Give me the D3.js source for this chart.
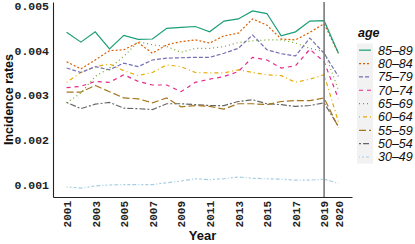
<!DOCTYPE html>
<html>
<head>
<meta charset="utf-8">
<script src="https://cdn.jsdelivr.net/npm/d3@7"></script>
<style>
  body { margin: 0; background: #fff; }
  svg { display: block; }
</style>
</head>
<body>
<div id="chart"></div>
<script>
// years on the x axis
const years = d3.range(2001, 2021);

// age groups, in legend order
const ages = ["85–89", "80–84", "75–79", "70–74", "65–69", "60–64", "55–59", "50–54", "30–49"];

const colors = ["#1b9e77", "#d95f02", "#7570b3", "#e7298a", "#66a61e", "#e6ab02", "#a6761d", "#666666", "#a6cee3"];
const dashes = ["", "2 2", "4 2", "4 4", "1 3", "1 3 4 3", "7 3", "2 2 6 2", "1 2 2 2 3 2 4 2"];

// incidence rates per age group, 2001..2020
const r85_89 = [0.00441, 0.00419, 0.00442, 0.00404, 0.00434, 0.00425, 0.00426, 0.00450, 0.00452, 0.00454,
                0.00442, 0.00466, 0.00471, 0.00489, 0.00483, 0.00433, 0.00442, 0.00466, 0.00467, 0.00394];
const r80_84 = [0.00375, 0.00359, 0.00379, 0.00400, 0.00402, 0.00418, 0.00394, 0.00413, 0.00420, 0.00424,
                0.00417, 0.00433, 0.00439, 0.00471, 0.00457, 0.00426, 0.00424, 0.00441, 0.00460, 0.00394];
const r75_79 = [0.00361, 0.00351, 0.00364, 0.00357, 0.00372, 0.00364, 0.00379, 0.00383, 0.00384, 0.00385,
                0.00385, 0.00394, 0.00405, 0.00435, 0.00402, 0.00393, 0.00388, 0.00428, 0.00394, 0.00342];
const r70_74 = [0.00317, 0.00320, 0.00331, 0.00329, 0.00346, 0.00331, 0.00323, 0.00323, 0.00308, 0.00329,
                0.00336, 0.00342, 0.00353, 0.00385, 0.00379, 0.00361, 0.00366, 0.00403, 0.00375, 0.00292];
const r65_69 = [0.00283, 0.00305, 0.00342, 0.00361, 0.00387, 0.00420, 0.00413, 0.00409, 0.00396, 0.00405,
                0.00405, 0.00409, 0.00418, 0.00422, 0.00424, 0.00424, 0.00417, 0.00405, 0.00398, 0.00312];
const r60_64 = [0.00329, 0.00351, 0.00364, 0.00370, 0.00355, 0.00344, 0.00351, 0.00368, 0.00364, 0.00351,
                0.00350, 0.00350, 0.00357, 0.00351, 0.00346, 0.00344, 0.00329, 0.00336, 0.00346, 0.00240];
const r55_59 = [0.00307, 0.00307, 0.00322, 0.00308, 0.00294, 0.00292, 0.00283, 0.00294, 0.00274, 0.00277,
                0.00275, 0.00269, 0.00281, 0.00281, 0.00279, 0.00286, 0.00288, 0.00288, 0.00294, 0.00228];
const r50_54 = [0.00284, 0.00270, 0.00280, 0.00284, 0.00271, 0.00270, 0.00268, 0.00281, 0.00281, 0.00279,
                0.00277, 0.00277, 0.00286, 0.00290, 0.00281, 0.00279, 0.00275, 0.00277, 0.00283, 0.00230];
const r30_49 = [0.00095, 0.00092, 0.00097, 0.00099, 0.00100, 0.00100, 0.00100, 0.00104, 0.00108, 0.00113,
                0.00111, 0.00113, 0.00117, 0.00114, 0.00113, 0.00112, 0.00110, 0.00110, 0.00112, 0.00103];

const rates = [r85_89, r80_84, r75_79, r70_74, r65_69, r60_64, r55_59, r50_54, r30_49];

const yTicks = [0.001, 0.002, 0.003, 0.004, 0.005];
const xTicks = [2001, 2003, 2005, 2007, 2009, 2011, 2013, 2015, 2017, 2019, 2020];
const cutYear = 2019;

const width = 415, height = 244;
const margin = { top: 2, right: 63, bottom: 47, left: 53 };

const svg = d3.select("#chart").append("svg")
  .attr("width", width)
  .attr("height", height);

// ggplot-style 5% expansion
const xExt = d3.extent(years);
const xPad = (xExt[1] - xExt[0]) * 0.05;
const x = d3.scaleLinear()
  .domain([xExt[0] - xPad, xExt[1] + xPad])
  .range([margin.left, width - margin.right]);

const allVals = rates.flat();
const yExt = d3.extent(allVals);
const yPad = (yExt[1] - yExt[0]) * 0.05;
const y = d3.scaleLinear()
  .domain([yExt[0] - yPad, yExt[1] + yPad])
  .range([height - margin.bottom, margin.top]);

const monoFont = "'Liberation Mono', 'DejaVu Sans Mono', monospace";
const sansFont = "'Liberation Sans', Arial, sans-serif";

// axes
const yAxis = svg.append("g")
  .attr("transform", `translate(${margin.left},0)`)
  .call(d3.axisLeft(y).tickValues(yTicks).tickFormat(d3.format(".3f")).tickSize(0).tickPadding(4));
yAxis.select(".domain").attr("stroke", "#222").attr("stroke-width", 1.1);
yAxis.selectAll("text")
  .attr("font-family", monoFont)
  .attr("font-weight", "bold")
  .attr("font-size", 11.5)
  .attr("fill", "#222");

const xAxis = svg.append("g")
  .attr("transform", `translate(0,${height - margin.bottom})`)
  .call(d3.axisBottom(x).tickValues(xTicks).tickFormat(d3.format("d")).tickSize(0));
xAxis.select(".domain").attr("stroke", "#222").attr("stroke-width", 1.1);
xAxis.selectAll("text")
  .attr("font-family", monoFont)
  .attr("font-weight", "bold")
  .attr("font-size", 11)
  .attr("fill", "#222")
  .attr("text-anchor", "end")
  .attr("transform", "rotate(-90)")
  .attr("x", -4)
  .attr("y", 0)
  .attr("dy", "0.35em");

// lines
const line = d3.line()
  .x((d, i) => x(years[i]))
  .y(d => y(d));

svg.append("g")
  .selectAll("path")
  .data(rates.slice().reverse())
  .enter()
  .append("path")
  .attr("d", d => line(d))
  .attr("fill", "none")
  .attr("stroke", (d, i) => colors[ages.length - 1 - i])
  .attr("stroke-width", 1.2)
  .attr("stroke-dasharray", (d, i) => dashes[ages.length - 1 - i]);

// vertical marker at 2019
svg.append("line")
  .attr("x1", x(cutYear)).attr("x2", x(cutYear))
  .attr("y1", margin.top).attr("y2", height - margin.bottom)
  .attr("stroke", "#7a7a7a")
  .attr("stroke-width", 1.6);

// axis titles
svg.append("text")
  .attr("transform", `translate(13,${(margin.top + height - margin.bottom) / 2}) rotate(-90)`)
  .attr("text-anchor", "middle")
  .attr("font-family", sansFont)
  .attr("font-weight", "bold")
  .attr("font-size", 12.5)
  .attr("fill", "#111")
  .text("Incidence rates");

svg.append("text")
  .attr("x", (margin.left + width - margin.right) / 2)
  .attr("y", 240)
  .attr("text-anchor", "middle")
  .attr("font-family", sansFont)
  .attr("font-weight", "bold")
  .attr("font-size", 13)
  .attr("fill", "#111")
  .text("Year");

// legend
const legend = svg.append("g").attr("transform", "translate(357,0)");
legend.append("text")
  .attr("x", 1)
  .attr("y", 37)
  .attr("font-family", sansFont)
  .attr("font-weight", "bold")
  .attr("font-style", "italic")
  .attr("font-size", 12.5)
  .attr("fill", "#111")
  .text("age");

const keyStep = 13.35, keyTop = 43.5;
legend.append("rect")
  .attr("x", 0).attr("y", keyTop)
  .attr("width", 16).attr("height", keyStep * ages.length)
  .attr("fill", "#f2f2f2");

const items = legend.selectAll(".item")
  .data(ages)
  .enter()
  .append("g")
  .attr("transform", (d, i) => `translate(0,${keyTop + keyStep * (i + 0.5)})`);

items.append("line")
  .attr("x1", 2).attr("x2", 14)
  .attr("stroke", (d, i) => colors[i])
  .attr("stroke-width", 1.2)
  .attr("stroke-dasharray", (d, i) => dashes[i]);

items.append("text")
  .attr("x", 21)
  .attr("dy", "0.36em")
  .attr("font-family", sansFont)
  .attr("font-style", "italic")
  .attr("font-size", 12.5)
  .attr("fill", "#111")
  .text(d => d);
</script>
</body>
</html>
